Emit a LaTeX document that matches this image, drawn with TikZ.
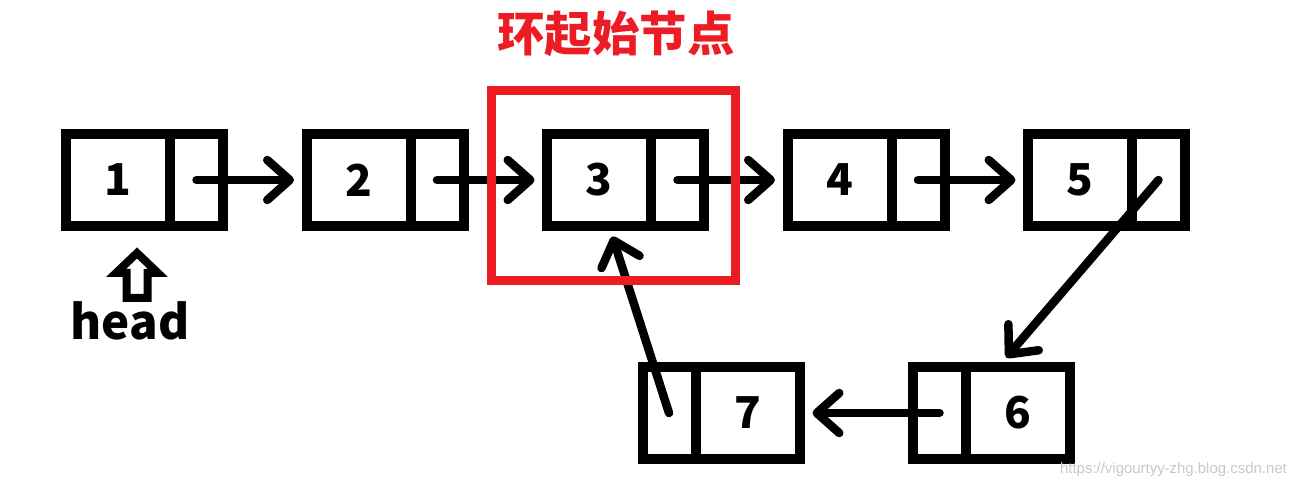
\documentclass[tikz,border=0pt]{standalone}
\usepackage{fontspec}
\usepackage{xcolor}
\usepackage{tikz}
\usetikzlibrary{arrows.meta,calc,positioning}
\newfontfamily\cjk{Noto Sans CJK SC}
\newfontfamily\urlfont{Liberation Sans}
\definecolor{LoopRed}{HTML}{ED1C24}
\definecolor{MarkGray}{HTML}{C8C8C8}

\begin{document}
\begin{tikzpicture}[
  font=\cjk\bfseries\fontsize{25}{30}\selectfont,
  val/.style={rectangle,draw=black,line width=2mm,minimum width=20.8mm,minimum height=18.4mm,inner sep=0pt,outer sep=0pt},
  ptr/.style={rectangle,draw=black,line width=2mm,minimum width=10.6mm,minimum height=18.4mm,inner sep=0pt,outer sep=0pt},
  link/.style={-{Straight Barb[length=4.5mm,width=8mm,line cap=round,line join=round]},line width=1.7mm,line cap=round},
  ring/.style={rectangle,draw=LoopRed,line width=1.8mm,minimum width=48.8mm,minimum height=38mm,inner sep=0pt},
  headmark/.style={draw=black,line width=1.6mm,line join=miter}
]
\useasboundingbox (0,0) rectangle (26.08,9.72);

% top row: 1 .. 5
\foreach \i/\x in {1/2.36,2/7.17,3/11.98,4/16.79,5/21.60} {
  \node[val] (v\i) at (\x,6.12) {\i};
  \node[ptr,anchor=west] (p\i) at (v\i.east) {};
}

% bottom row: 7 and 6, pointer cell on the left
\node[ptr] (p7) at (13.38,1.46) {};
\node[val,anchor=west] (v7) at (p7.east) {7};
\node[ptr] (p6) at (18.79,1.46) {};
\node[val,anchor=west] (v6) at (p6.east) {6};

\foreach \a/\b in {1/2,2/3,3/4,4/5}
  \draw[link,shorten >=2.5mm] (p\a.center) -- (v\b.west);
\draw[link,shorten >=2.5mm] (p5.center) -- ([xshift=-4mm]v6.north);
\draw[link,shorten >=2.6mm] (p6.center) -- (v7.east);
\draw[link,shorten >=2.2mm] (p7.center) -- ([xshift=2mm]v3.south);

% entry of the loop
\node[ring] (entry) at (12.27,6.01) {};
\node[text=LoopRed,font=\cjk\bfseries\fontsize{27}{30}\selectfont] (title) at (12.32,9.04) {环起始节点};

% head marker
\coordinate (headtip) at (2.74,4.66);
\draw[headmark] (headtip) -- ++(0.42,-0.40) -- ++(-0.21,0) -- ++(0,-0.50)
  -- ++(-0.42,0) -- ++(0,0.50) -- ++(-0.21,0) -- cycle;
\node[anchor=base,font=\cjk\bfseries\fontsize{27}{30}\selectfont] (headlbl) at (2.6,2.92) {head};

\node[anchor=base east,font=\urlfont\fontsize{8.5}{10}\selectfont,text=MarkGray] (mark) at (25.86,0.26) {https://vigourtyy-zhg.blog.csdn.net};
\end{tikzpicture}
\end{document}
